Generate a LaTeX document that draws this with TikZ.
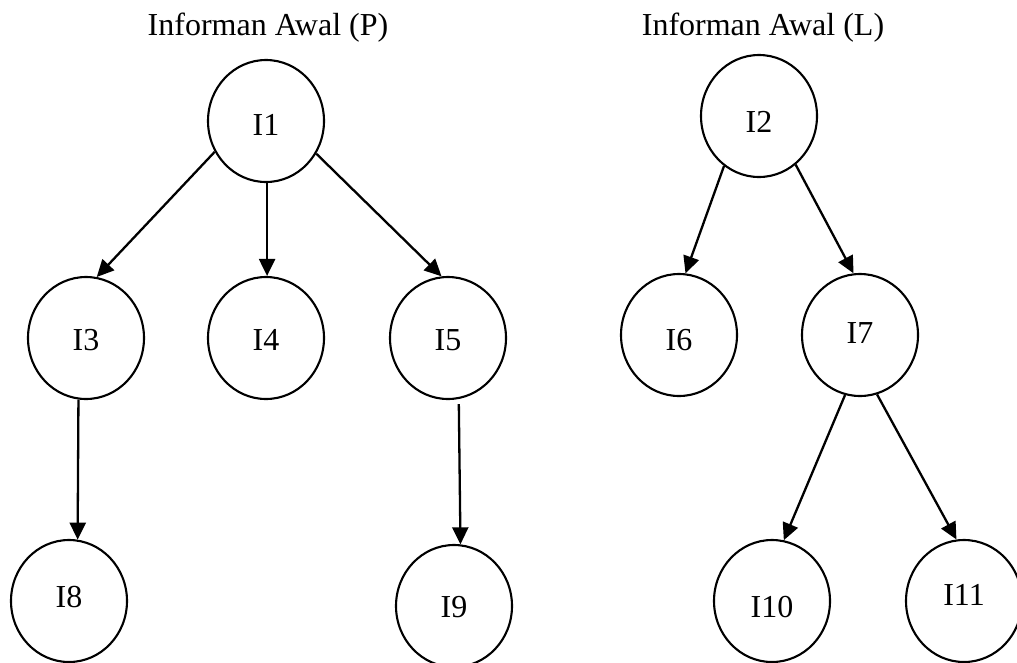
\documentclass[tikz,border=0pt]{standalone}
\usepackage{fontspec}
\setmainfont{Liberation Serif}
\usetikzlibrary{shapes.geometric,arrows.meta}
\begin{document}
\begin{tikzpicture}[x=1pt,y=-1pt,
  person/.style={draw,line width=2.1pt,ellipse,minimum width=116pt,minimum height=122pt,inner sep=0pt},
  tx/.style={font=\fontsize{32}{36}\selectfont,inner sep=0pt},
  title/.style={font=\fontsize{32}{36}\selectfont},
  link/.style={line width=2.3pt,-{Triangle[length=17pt,width=16pt]}}]
\useasboundingbox (0,0) rectangle (1017,662);
% titles of both trees
\node[title] (tp) at (268,28) {Informan Awal (P)};
\node[title] (tl) at (763,28) {Informan Awal (L)};
% left tree
\node[person,label={[tx,yshift=-4pt]center:I1}] (I1) at (266,121) {};
\node[person,label={[tx,yshift=-2pt]center:I3}] (I3) at (86,338) {};
\node[person,label={[tx,yshift=-2pt]center:I4}] (I4) at (266,338) {};
\node[person,label={[tx,yshift=-2pt]center:I5}] (I5) at (448,338) {};
\node[person,label={[tx,yshift=4pt]center:I8}] (I8) at (69,601) {};
\node[person,label={[tx,yshift=-1pt]center:I9}] (I9) at (454,606) {};
% right tree
\node[person,label={[tx,yshift=-6pt]center:I2}] (I2) at (759,116) {};
\node[person,label={[tx,yshift=-5pt]center:I6}] (I6) at (679,335) {};
\node[person,label={[tx,yshift=2pt]center:I7}] (I7) at (860,335) {};
\node[person,label={[tx,yshift=-6pt]center:I10}] (I10) at (772,601) {};
\node[person,label={[tx,yshift=6pt]center:I11}] (I11) at (964,601) {};
% connectors
\draw[link] (I1.211) -- (I3.80);
\draw[link] (I1.271) -- (I4.89);
\draw[link] (I1.327) -- (I5.96);
\draw[link] (I3.263) -- (I8.82);
\draw[link,shorten <=5pt] (I5.280) -- (I9.84);
\draw[link] (I2.235) -- (I6.84);
\draw[link] (I2.307) -- (I7.96);
\draw[link] (I7.256) -- (I10.79);
\draw[link] (I7.286) -- (I11.97);
\end{tikzpicture}
\end{document}
